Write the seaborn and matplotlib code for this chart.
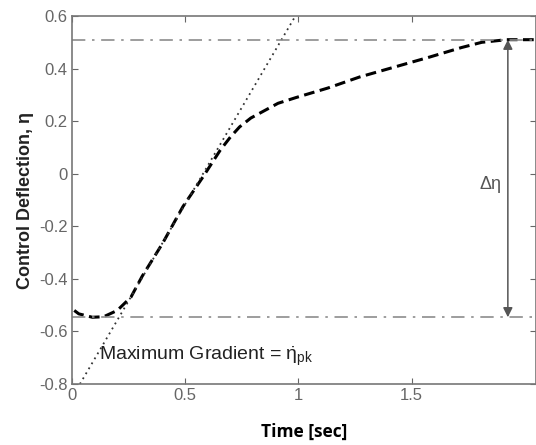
import numpy as np
import pandas as pd
import seaborn as sns
import matplotlib.pyplot as plt

# control deflection response
time_s = [0.01, 0.03, 0.09, 0.14, 0.2, 0.26, 0.31, 0.40, 0.49, 0.58, 0.655, 0.70,
          0.74, 0.79, 0.85, 0.91, 0.99, 1.13, 1.27, 1.38, 1.58, 1.72, 1.81, 1.92, 2.05]
deflection = [-0.52, -0.533, -0.546, -0.544, -0.52, -0.47, -0.39, -0.265, -0.125,
              -0.01, 0.09, 0.14, 0.178, 0.212, 0.24, 0.268, 0.29, 0.326, 0.368,
              0.395, 0.444, 0.48, 0.50, 0.51, 0.51]

# max gradient tangent
tangent_t = [0.035, 0.99]
tangent_y = [-0.8, 0.605]

eta_max = 0.51
eta_min = -0.546
arrow_t = 1.925

x_ticks = [0, 0.5, 1, 1.5]
x_tick_labels = ['0', '0.5', '1', '1.5']
y_ticks = [-0.8, -0.6, -0.4, -0.2, 0, 0.2, 0.4, 0.6]
y_tick_labels = ['-0.8', '-0.6', '-0.4', '-0.2', '0', '0.2', '0.4', '0.6']

sns.set_theme(style='white')
plt.rcParams['font.family'] = ['Liberation Sans', 'DejaVu Sans']

fig = plt.figure(figsize=(5.36, 4.45), dpi=100)
ax = fig.add_axes([0.1343, 0.137, 0.866, 0.827])

df = pd.DataFrame({'t': time_s, 'eta': deflection})
sns.lineplot(data=df, x='t', y='eta', ax=ax, color='black', lw=2.2,
             linestyle=(0, (3.5, 1.8)), sort=False)
sns.lineplot(x=tangent_t, y=tangent_y, ax=ax, color='#333333', lw=1.3,
             linestyle=(0, (1, 2.2)), sort=False)

ax.axhline(eta_max, color='#8c8c8c', lw=1.2, linestyle=(0, (8, 4, 1.5, 4)))
ax.axhline(eta_min, color='#8c8c8c', lw=1.2, linestyle=(0, (8, 4, 1.5, 4)))

ax.annotate('', xy=(arrow_t, eta_max), xytext=(arrow_t, eta_min),
            arrowprops=dict(arrowstyle='<|-|>', color='#555555', lw=1.1,
                            mutation_scale=14, shrinkA=0, shrinkB=0))
ax.text(arrow_t - 0.03, -0.04, 'Δη', ha='right', va='center',
        fontsize=13, color='#555555')

ax.text(0.12, -0.71, r'Maximum Gradient = $\mathregular{\dot{\eta}_{pk}}$',
        fontsize=14, color='#222222', va='baseline')

ax.set_xlim(0, 2.05)
ax.set_ylim(-0.8, 0.6)
ax.set_xticks(x_ticks)
ax.set_xticklabels(x_tick_labels)
ax.set_yticks(y_ticks)
ax.set_yticklabels(y_tick_labels)
ax.tick_params(direction='in', length=4, width=0.8, colors='#666666',
               labelsize=12, labelcolor='#666666', top=True, right=True,
               bottom=True, left=True, pad=3)

for sp in ax.spines.values():
    sp.set_color('#777777')
    sp.set_linewidth(1.2)

ax.set_xlabel('Time [sec]', fontsize=12.5, fontweight='bold', color='black',
              labelpad=14, fontfamily='Open Sans')
ax.set_ylabel('Control Deflection, η', fontsize=13, fontweight='bold',
              color='#222222', labelpad=4)

fig.savefig('out.png', dpi=100)
